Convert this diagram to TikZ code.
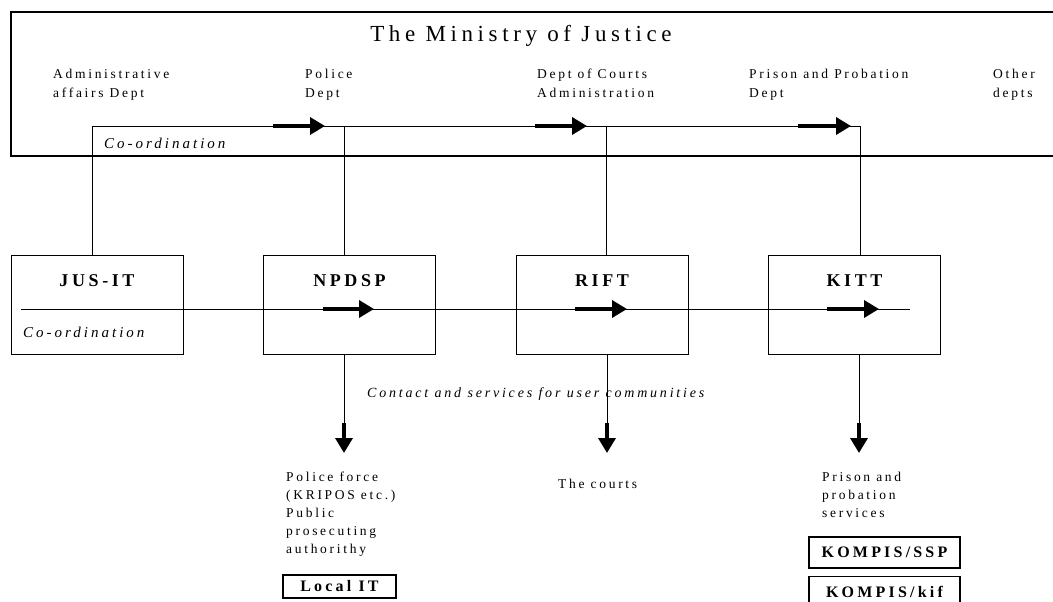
\documentclass[tikz,border=0pt]{standalone}
\usepackage{fontspec}
\setmainfont{Liberation Serif}[LetterSpace=20]
\usetikzlibrary{arrows.meta, positioning}

\begin{document}
\begin{tikzpicture}
    [
        x=1pt, y=-1pt, node distance=252.5pt,
        box/.style={draw, line width=1pt, minimum width=172pt, minimum height=99pt, inner sep=0pt},
        boxname/.style={inner sep=0pt, font=\fontsize{18}{18}\selectfont\bfseries},
        dept/.style={anchor=base west, align=left, inner sep=0pt, font=\fontsize{13.5}{19}\selectfont},
        users/.style={anchor=base west, align=left, inner sep=0pt, font=\fontsize{13.5}{18}\selectfont},
        coord/.style={anchor=base west, inner sep=0pt, font=\fontsize{15}{15}\selectfont\itshape},
        itbox/.style={draw, line width=1.3pt, inner sep=0pt, font=\fontsize{16}{16}\selectfont\bfseries}
    ]
    \tikzstyle{line} = [draw, line width=1pt]
    \tikzstyle{bigarrow} = [draw, line width=3.5pt, -{Triangle[length=15pt,width=17pt]}]

    \useasboundingbox (0,0) rectangle (1053,602);

    % The ministry (base of a multi-line node = its last line)
    \draw[line width=1.2pt] (1060,12) -- (11,12) -- (11,156) -- (1060,156);
    \node[anchor=base, inner sep=0pt, font=\fontsize{23}{23}\selectfont] (ministry) at (521,42) {The Ministry of Justice};
    \node[dept] (admin_dept) at (53,97) {Administrative\\affairs Dept};
    \node[dept] (police_dept) at (305,97) {Police\\Dept};
    \node[dept] (courts_dept) at (537,97) {Dept of Courts\\Administration};
    \node[dept] (prison_dept) at (749,97) {Prison and Probation\\Dept};
    \node[dept] (other_dept) at (993,97) {Other\\depts};
    \node[coord] (coord_top) at (104,148) {Co-ordination};

    % IT units
    \node[box] (jusit) at (97,304.5) {};
    \node[box, right of=jusit] (npdsp) {};
    \node[box, right of=npdsp] (rift) {};
    \node[box, right of=rift] (kitt) {};
    \node[boxname, below=20pt of jusit.north] (jusit_name) {JUS-IT};
    \node[boxname, below=20pt of npdsp.north] (npdsp_name) {NPDSP};
    \node[boxname, below=20pt of rift.north] (rift_name) {RIFT};
    \node[boxname, below=20pt of kitt.north] (kitt_name) {KITT};
    \node[coord] (coord_it) at (23,337) {Co-ordination};

    % Co-ordination line in the ministry
    \coordinate (c_jus) at (92,126);
    \coordinate (c_police) at (344,126);
    \coordinate (c_courts) at (606,126);
    \coordinate (c_prison) at (860,126);
    \path[line] (c_jus |- jusit.north) -- (c_jus) -- (c_prison) -- (c_prison |- kitt.north);
    \path[line] (c_police) -- (c_police |- npdsp.north);
    \path[line] (c_courts) -- (c_courts |- rift.north);
    \path[bigarrow] (273,126) -- (325,126);
    \path[bigarrow] (535,126) -- (587,126);
    \path[bigarrow] (798,126) -- (851,126);

    % Co-ordination line between the IT units
    \coordinate (it_start) at (21,309);
    \coordinate (it_end) at (910,309);
    \path[line] (it_start) -- (it_end);
    \path[bigarrow] (323,309) -- (374,309);
    \path[bigarrow] (575,309) -- (627,309);
    \path[bigarrow] (827,309) -- (879,309);

    % Services for the user communities
    \node[users, font=\fontsize{14}{14}\selectfont\itshape] (contact) at (367,397) {Contact and services for user communities};
    \node[users] (police_force) at (286,553) {Police force\\(KRIPOS etc.)\\Public\\prosecuting\\authorithy};
    \node[users] (courts) at (558,488) {The courts};
    \node[users] (prison) at (822,517) {Prison and\\probation\\services};
    \coordinate (u_police) at (344,423);
    \coordinate (u_courts) at (607,423);
    \coordinate (u_prison) at (859,423);
    \path[line] (u_police |- npdsp.south) -- (u_police);
    \path[line] (u_courts |- rift.south) -- (u_courts);
    \path[line] (u_prison |- kitt.south) -- (u_prison);
    \path[bigarrow] (u_police) -- ++(0,30);
    \path[bigarrow] (u_courts) -- ++(0,30);
    \path[bigarrow] (u_prison) -- ++(0,30);

    % Local systems
    \node[itbox, minimum width=113pt, minimum height=23pt] (local_it) at (339.5,586.5) {Local IT};
    \node[itbox, minimum width=151pt, minimum height=31pt] (kompis_ssp) at (884.5,552.5) {KOMPIS/SSP};
    \node[itbox, minimum width=151pt, minimum height=31pt, below=7pt of kompis_ssp] (kompis_kif) {KOMPIS/kif};
\end{tikzpicture}
\end{document}
